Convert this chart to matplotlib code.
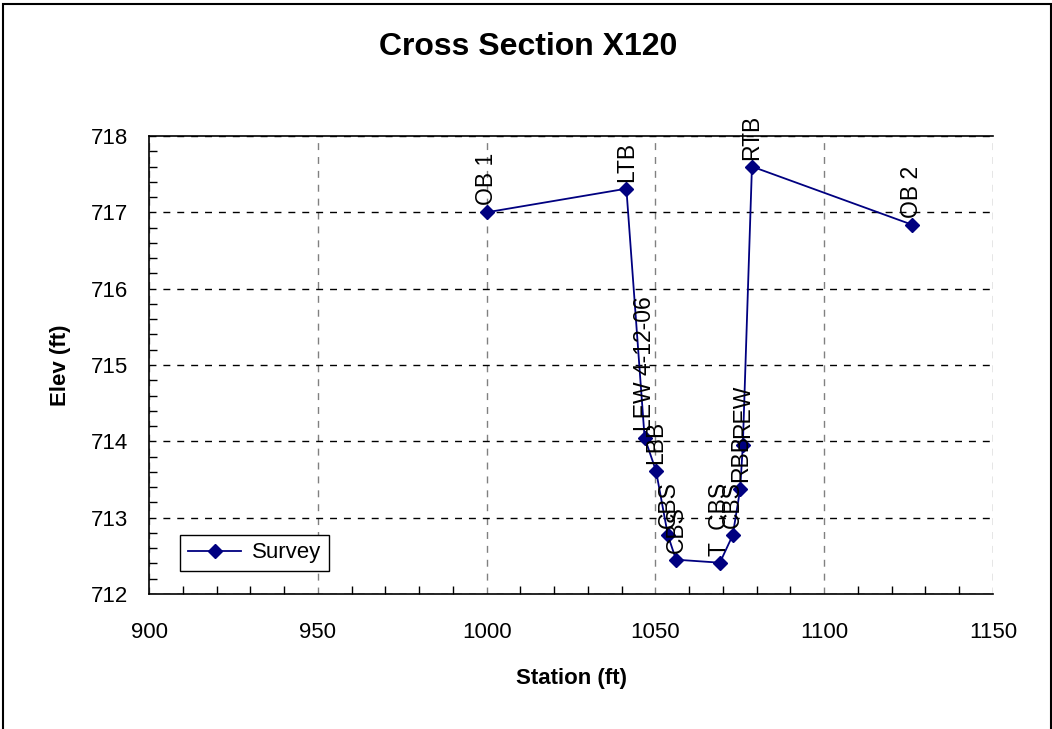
import matplotlib
matplotlib.use("Agg")
import matplotlib.pyplot as plt
from matplotlib.patches import Rectangle
from matplotlib.ticker import MultipleLocator

plt.rcParams['font.family'] = ['Liberation Sans', 'DejaVu Sans']

# survey points
station = [1000.0, 1041.4, 1046.8, 1050.2, 1053.7, 1056.1, 1069.1, 1072.9, 1075.1, 1075.9, 1078.6, 1125.9]
elev = [717.00, 717.31, 714.05, 713.61, 712.77, 712.45, 712.41, 712.77, 713.37, 713.95, 717.60, 716.84]
labels = ["OB 1", "LTB", "LEW 4-12-06", "LBB", "CBS", "CBS", "T  CBS", "CBS", "RBB", "REW", "RTB", "OB 2"]

fig = plt.figure(figsize=(10.52, 7.29), dpi=100)
ax = fig.add_axes([149 / 1052, 1 - 594 / 729, (993 - 149) / 1052, (594 - 136) / 729])

ax.plot(station, elev, color="#000080", lw=1.3, marker="D", markersize=7.5, label="Survey")

for x, y, t in zip(station, elev, labels):
    ax.annotate(t, (x, y), xytext=(0, 5), textcoords="offset points",
                rotation=90, ha="center", va="bottom", fontsize=16.5, annotation_clip=False)

ax.set_xlim(900, 1150)
ax.set_ylim(712, 718)
ax.xaxis.set_major_locator(MultipleLocator(50))
ax.xaxis.set_minor_locator(MultipleLocator(10))
ax.yaxis.set_major_locator(MultipleLocator(1))
ax.yaxis.set_minor_locator(MultipleLocator(0.2))
ax.tick_params(which="major", length=0, labelsize=16)
ax.tick_params(axis="x", which="major", pad=20)
ax.tick_params(axis="y", which="major", pad=15)
ax.tick_params(which="minor", direction="in", length=6, width=1)

ax.xaxis.grid(True, ls=(0, (5, 5)), color="#808080", lw=1)
ax.yaxis.grid(True, ls=(0, (5, 5)), color="black", lw=1)
ax.spines["right"].set_visible(False)
for s in ["left", "bottom", "top"]:
    ax.spines[s].set_linewidth(1.2)

ax.set_xlabel("Station (ft)", fontsize=16, fontweight="bold", labelpad=18)
ax.set_ylabel("Elev (ft)", fontsize=16, fontweight="bold", labelpad=14)
fig.text(528 / 1052, 1 - 47 / 729, "Cross Section X120", ha="center", va="center",
         fontsize=23, fontweight="bold")

leg = ax.legend(loc="lower left", bbox_to_anchor=(0.037, 0.05), borderaxespad=0,
                fontsize=16, fancybox=False, framealpha=1, edgecolor="black",
                borderpad=0.35, handlelength=2.4, handletextpad=0.5)
leg.get_frame().set_linewidth(1)

fig.patches.append(Rectangle((3 / 1052, -0.01), 1048 / 1052, 1 - 4 / 729 + 0.01,
                             transform=fig.transFigure, fill=False, edgecolor="black", lw=1.5))

fig.savefig("out.png", dpi=100)
